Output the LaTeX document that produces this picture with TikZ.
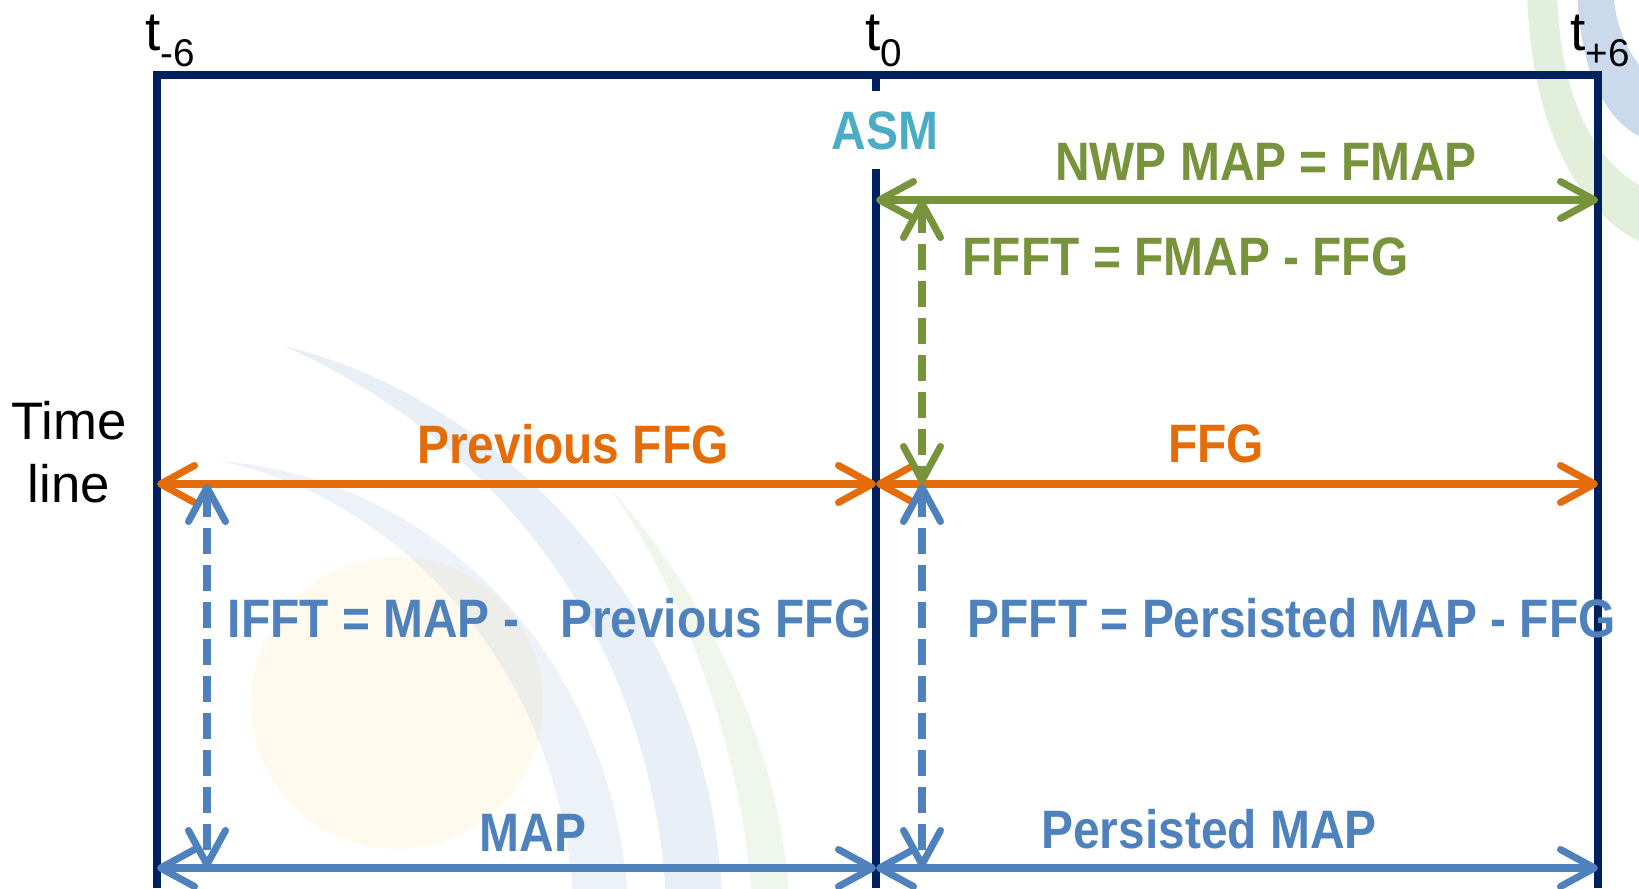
\documentclass[tikz,border=0pt]{standalone}
\usepackage{fontspec}
\setmainfont{Liberation Sans}
\newfontfamily\lblfont[FakeStretch=0.885]{Liberation Sans}
\usetikzlibrary{arrows.meta, positioning}
\definecolor{framenavy}{HTML}{002060}
\definecolor{asmblue}{HTML}{4BACC6}
\definecolor{nwpgreen}{HTML}{77933C}
\definecolor{ffgorange}{HTML}{E46C0A}
\definecolor{mapblue}{HTML}{4F81BD}
\definecolor{swooshblue}{HTML}{B8CCE4}
\definecolor{swooshgreen}{HTML}{C9E2BE}
\definecolor{sunyellow}{HTML}{FFEFC2}
\newcommand{\tsub}[1]{\raisebox{-1.7mm}{\fontsize{11}{11}\selectfont #1}}
\tikzset{
	frameline/.style={
			draw=framenavy,
			line width=2.3pt
		},
	spanarrow/.style={
			line width=2pt,
			{Straight Barb[length=3.4mm, width=3.7mm, round]}-{Straight Barb[length=3.4mm, width=3.7mm, round]}
		},
	dashspan/.style={
			spanarrow,
			dash pattern=on 2.6mm off 1.1mm
		},
	spanlabel/.style={
			font=\lblfont\bfseries\fontsize{15.4}{18}\selectfont,
			inner sep=0pt
		},
	ticklabel/.style={
			font=\fontsize{15.6}{18}\selectfont,
			anchor=base west,
			inner sep=0pt
		},
	swoosh/.style={
			draw=none
		}
}

\begin{document}
\begin{tikzpicture}
	\useasboundingbox (0,0) rectangle (16.39,8.88);

	% faint background swooshes
	\begin{scope}
		\clip (0,0) rectangle (16.39,8.88);
		\fill[sunyellow, opacity=0.3] (3.97,1.85) circle (1.46);
		\fill[swoosh, swooshblue, opacity=0.32] (2.84,5.42) .. controls (5.0,4.9) and (7.1,2.8) .. (7.22,-0.1)
			-- (6.66,-0.1) .. controls (6.5,2.6) and (4.9,4.5) .. (2.84,5.42) -- cycle;
		\fill[swoosh, swooshblue, opacity=0.25] (2.20,4.27) .. controls (4.3,4.1) and (6.1,2.4) .. (6.28,-0.1)
			-- (5.73,-0.1) .. controls (5.6,2.2) and (4.0,3.9) .. (2.20,4.27) -- cycle;
		\fill[swoosh, swooshgreen, opacity=0.3] (6.10,4.00) .. controls (7.0,3.0) and (7.8,1.5) .. (7.89,-0.1)
			-- (7.52,-0.1) .. controls (7.4,1.5) and (6.8,3.0) .. (6.10,4.00) -- cycle;
		\fill[swoosh, swooshgreen, opacity=0.55] (15.27,8.98) .. controls (15.3,7.6) and (15.8,6.7) .. (16.49,6.42)
			-- (16.49,6.98) .. controls (16.0,7.2) and (15.6,7.8) .. (15.57,8.98) -- cycle;
		\fill[swoosh, swooshblue, opacity=0.75] (15.77,8.98) .. controls (15.8,8.1) and (16.1,7.6) .. (16.49,7.48)
			-- (16.49,8.12) .. controls (16.3,8.3) and (16.15,8.6) .. (16.13,8.98) -- cycle;
	\end{scope}

	% corners of the time frame
	\coordinate (lefttop) at (1.57,8.13);
	\coordinate (leftbot) at (1.57,0);
	\coordinate (midtop) at (8.76,8.13);
	\coordinate (midstub) at (8.76,7.97);
	\coordinate (midcut) at (8.76,7.19);
	\coordinate (midbot) at (8.76,0);
	\coordinate (righttop) at (15.98,8.13);
	\coordinate (rightbot) at (15.98,0);

	\draw[frameline] (leftbot) -- (lefttop) -- (righttop) -- (rightbot);
	\draw[frameline] (midtop) -- (midstub);
	\draw[frameline] (midcut) -- (midbot);

	% arrow ends
	\coordinate (nwpL) at (8.76,6.88);
	\coordinate (nwpR) at (15.98,6.88);
	\coordinate (prevL) at (1.57,4.04);
	\coordinate (prevR) at (8.76,4.04);
	\coordinate (ffgR) at (15.98,4.04);
	\coordinate (mapL) at (1.57,0.20);
	\coordinate (mapR) at (8.76,0.20);
	\coordinate (pmapR) at (15.98,0.20);
	\coordinate (ffftT) at (9.22,6.88);
	\coordinate (ffftB) at (9.22,4.04);
	\coordinate (pfftB) at (9.22,0.20);
	\coordinate (ifftT) at (2.07,4.04);
	\coordinate (ifftB) at (2.07,0.20);

	\draw[spanarrow, nwpgreen] (nwpL) -- (nwpR);
	\draw[spanarrow, ffgorange] (prevL) -- (prevR);
	\draw[spanarrow, ffgorange] (prevR) -- (ffgR);
	\draw[spanarrow, mapblue] (mapL) -- (mapR);
	\draw[spanarrow, mapblue] (mapR) -- (pmapR);
	\draw[dashspan, nwpgreen] (ffftT) -- (ffftB);
	\draw[dashspan, mapblue] (ifftT) -- (ifftB);
	\draw[dashspan, mapblue] (ffftB) -- (pfftB);

	% labels
	\node[ticklabel] (tminus) at (1.45,8.38) {t\tsub{-6}};
	\node[ticklabel] (tzero) at (8.65,8.38) {t\tsub{0}};
	\node[ticklabel] (tplus) at (15.70,8.38) {t\tsub{+6}};
	\node[align=center, font=\fontsize{15}{18}\selectfont] (timeline) at (0.69,4.36) {Time\\line};

	\node[spanlabel, text=asmblue] (asm) at (8.85,7.57) {ASM};
	\node[spanlabel, text=nwpgreen] (nwp) at (12.66,7.26) {NWP MAP = FMAP};
	\node[spanlabel, text=nwpgreen, anchor=west] (ffft) at (9.62,6.31) {FFFT = FMAP - FFG};
	\node[spanlabel, text=ffgorange] (prevffg) at (5.73,4.44) {Previous FFG};
	\node[spanlabel, text=ffgorange] (ffg) at (12.16,4.44) {FFG};
	\node[spanlabel, text=mapblue, anchor=west] (ifft) at (2.27,2.70) {IFFT = MAP -\hspace{4.1mm}Previous FFG};
	\node[spanlabel, text=mapblue, anchor=west] (pfft) at (9.67,2.70) {PFFT = Persisted MAP - FFG};
	\node[spanlabel, text=mapblue] (map) at (5.33,0.55) {MAP};
	\node[spanlabel, text=mapblue] (pmap) at (12.09,0.59) {Persisted MAP};

\end{tikzpicture}
\end{document}
